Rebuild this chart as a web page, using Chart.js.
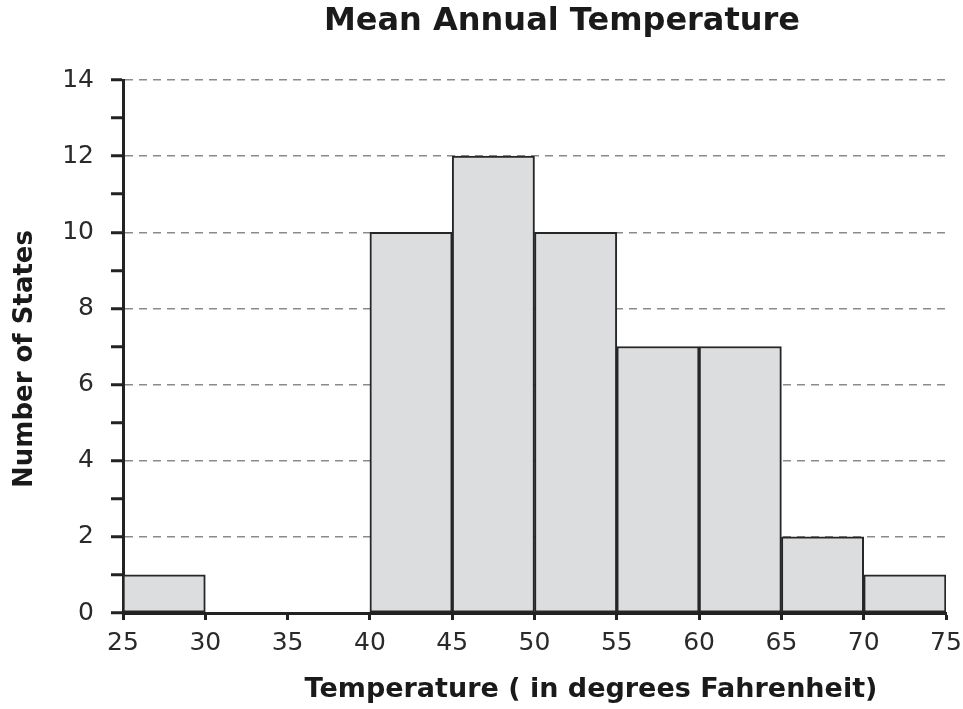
<!DOCTYPE html>
<html>
<head>
<meta charset="utf-8">
<script src="https://cdn.jsdelivr.net/npm/chart.js@4.4.1/dist/chart.umd.min.js"></script>
<style>
  html, body { margin: 0; padding: 0; background: #fff; }
  #wrap { width: 963px; height: 709px; }
</style>
</head>
<body>
<div id="wrap"><canvas id="tempHist" width="963" height="709"></canvas></div>
<script>
// bins are 5 degrees wide, starting at these values
var binStarts = [25, 30, 35, 40, 45, 50, 55, 60, 65, 70];
var stateCounts = [1, 0, 0, 10, 12, 10, 7, 7, 2, 1];
var xTicks = [25, 30, 35, 40, 45, 50, 55, 60, 65, 70, 75];
var yTicks = [0, 2, 4, 6, 8, 10, 12, 14];

var chartTitle = 'Mean Annual Temperature';
var xTitle = 'Temperature ( in degrees Fahrenheit)';
var yTitle = 'Number of States';

var binWidth = 5;
var points = binStarts.map((s, i) => ({ x: s + binWidth / 2, y: stateCounts[i] }));

// titles are not centred on the plot in the original, so draw them here
var titlePlugin = {
    id: 'offsetTitles',
    afterDraw(chart) {
        var c = chart.ctx;
        c.save();
        c.fillStyle = '#1a1a1a';
        c.textAlign = 'center';
        c.textBaseline = 'middle';
        c.font = 'bold 32px "DejaVu Sans"';
        c.fillText(chartTitle, 562, 22);
        c.font = 'bold 27px "DejaVu Sans"';
        c.fillText(xTitle, 591, 690);
        c.font = 'bold 26px "DejaVu Sans"';
        c.translate(25, 359);
        c.rotate(-Math.PI / 2);
        c.fillText(yTitle, 0, 0);
        c.restore();
    }
};

var ctx = document.getElementById('tempHist').getContext('2d');
var histChart = new Chart(ctx, {
    type: 'bar',
    data: {
        datasets: [{
            data: points,
            backgroundColor: '#dcdddf',
            borderColor: '#262626',
            borderWidth: 2,
            borderSkipped: false,
            barPercentage: 1,
            categoryPercentage: 1
        }]
    },
    options: {
        responsive: false,
        animation: false,
        layout: { padding: { top: 80, right: 17, left: 0, bottom: 0 } },
        scales: {
            x: {
                type: 'linear',
                min: 25,
                max: 75,
                offset: false,
                afterFit: s => { s.height = 709 - 613; s.paddingLeft = 0; s.paddingRight = 0; },
                afterBuildTicks: s => { s.ticks = xTicks.map(v => ({ value: v })); },
                ticks: {
                    color: '#2a2a2a',
                    font: { family: 'DejaVu Sans', size: 25 },
                    padding: 8,
                    maxRotation: 0
                },
                grid: {
                    offset: false,
                    drawOnChartArea: false,
                    drawTicks: true,
                    tickLength: 7,
                    tickWidth: 3,
                    tickColor: '#222'
                },
                border: { color: '#222', width: 3 }
            },
            y: {
                min: 0,
                max: 14,
                afterFit: s => { s.width = 123; },
                ticks: {
                    stepSize: 1,
                    color: '#2a2a2a',
                    font: { family: 'DejaVu Sans', size: 25 },
                    padding: 17,
                    callback: v => (yTicks.indexOf(v) >= 0 ? v : '')
                },
                grid: {
                    color: c => (c.tick && c.tick.value % 2 === 0 ? '#8a8a8a' : 'rgba(0,0,0,0)'),
                    lineWidth: 1.5,
                    drawTicks: true,
                    tickLength: 12,
                    tickWidth: 3,
                    tickColor: '#222'
                },
                border: { color: '#222', width: 3, dash: [8, 6] }
            }
        },
        plugins: {
            legend: { display: false },
            tooltip: { enabled: false }
        }
    },
    plugins: [titlePlugin]
});
</script>
</body>
</html>
